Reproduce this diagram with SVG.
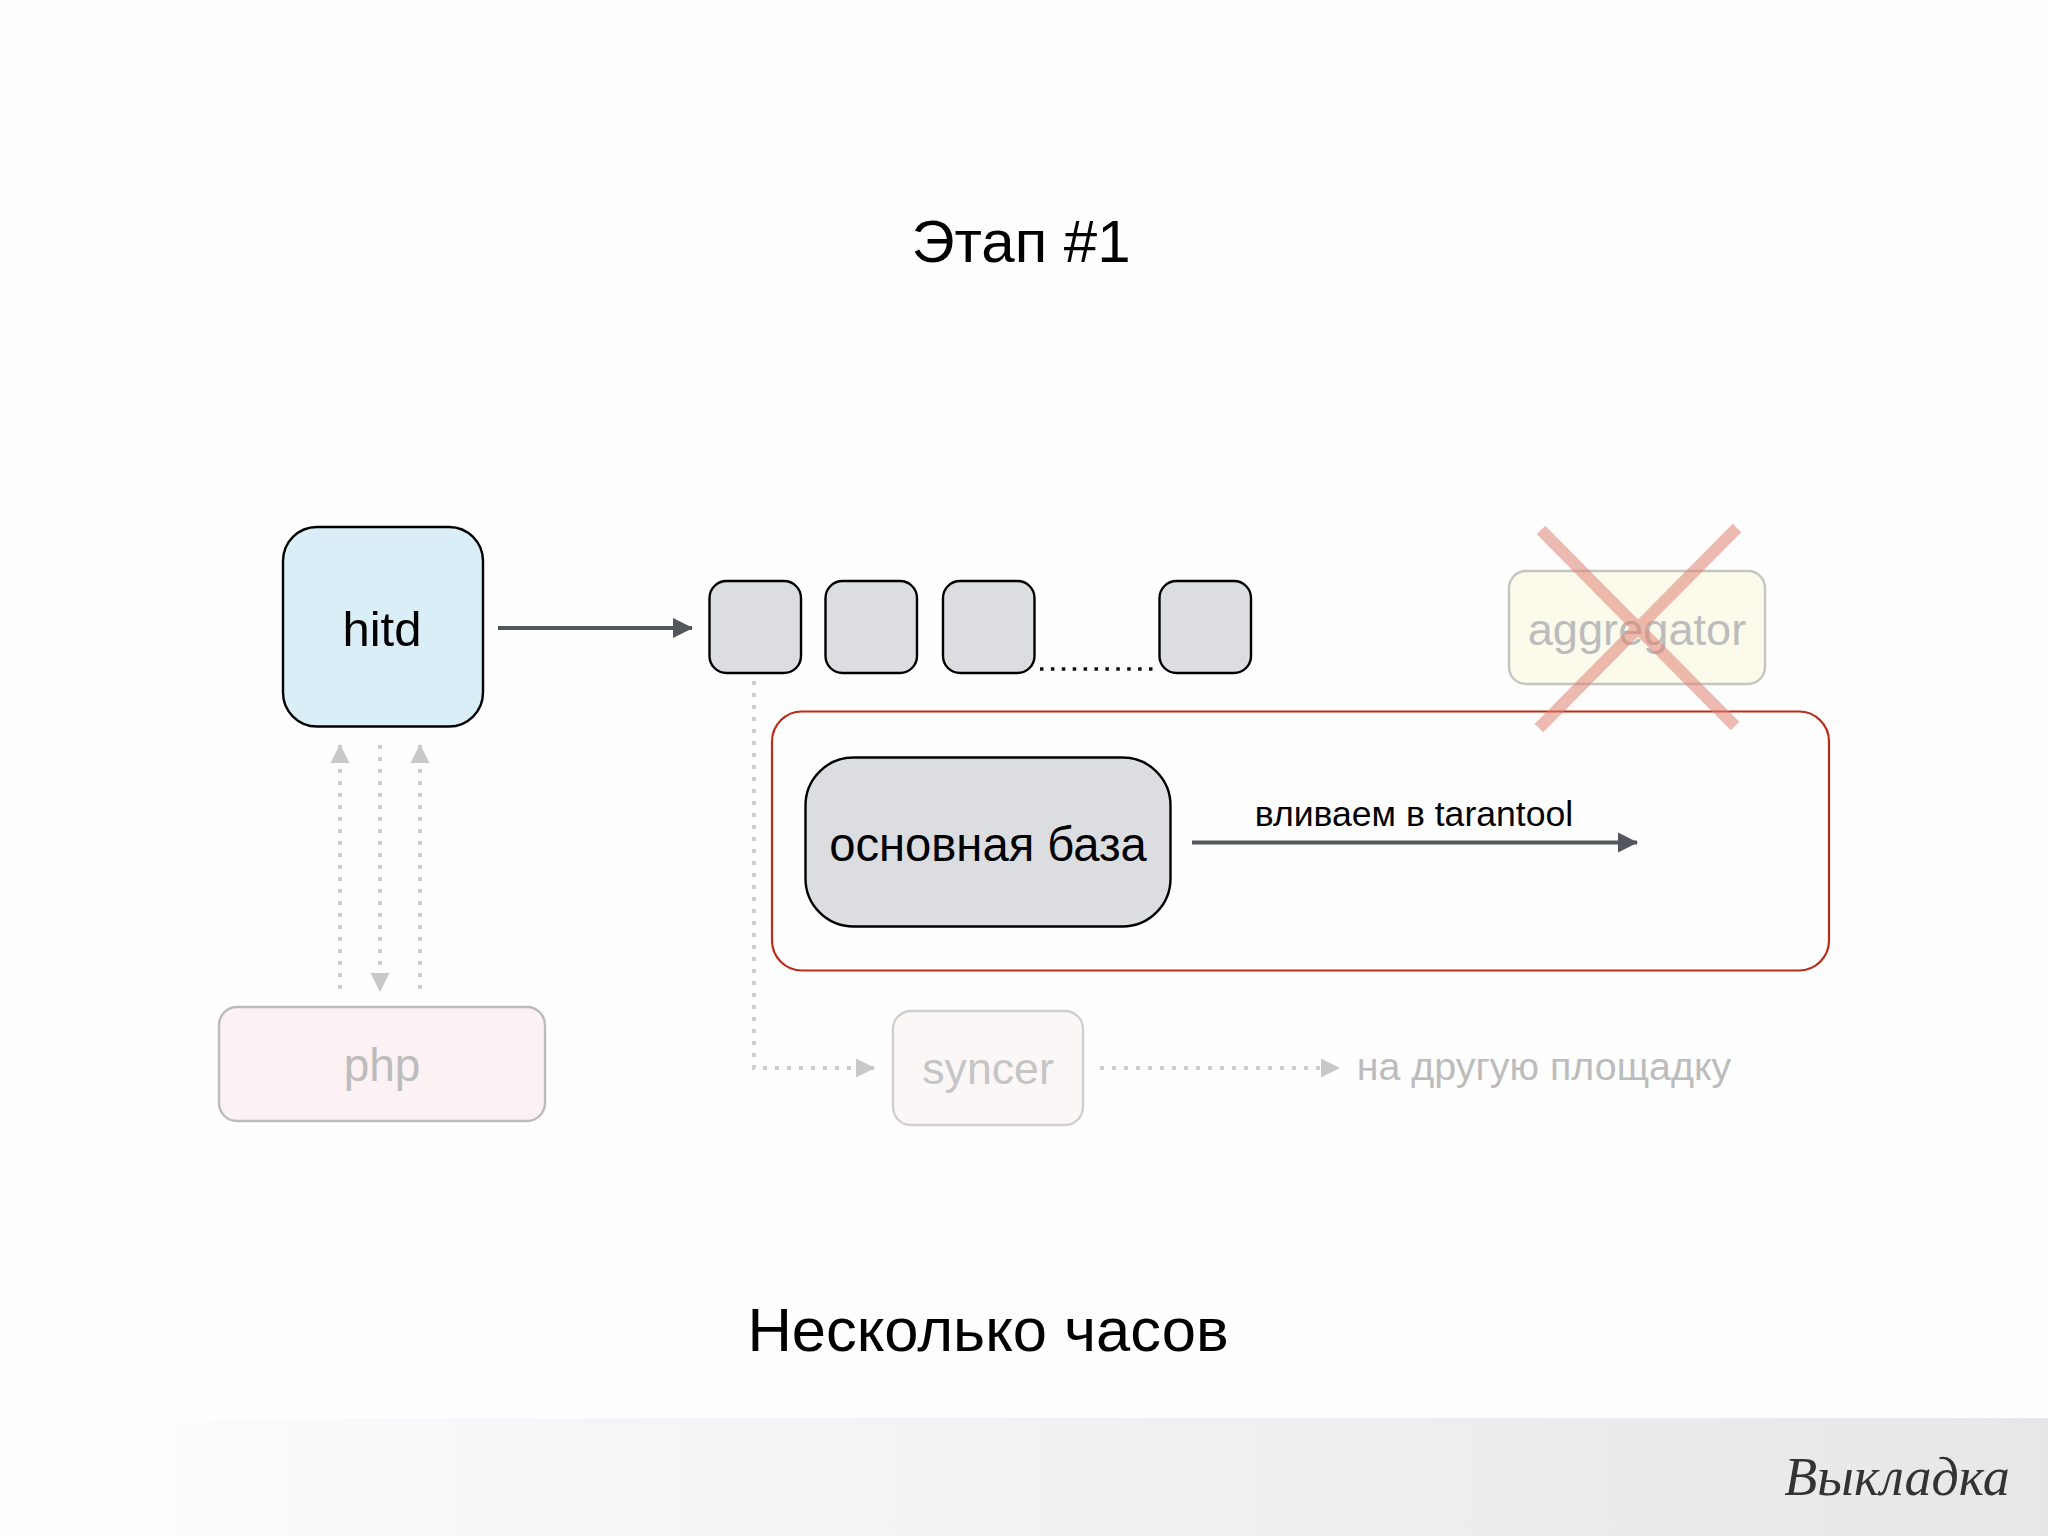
<svg xmlns="http://www.w3.org/2000/svg" width="2048" height="1536" viewBox="0 0 2048 1536">
<style>
text{font-family:"Liberation Sans",Arial,sans-serif;text-anchor:middle}
.b{stroke:#000;stroke-width:2.4}
.g{fill:#dcdde0}
.s{fill:none;stroke:#53565c;stroke-width:4}
.d{fill:none;stroke:#cdcdcf;stroke-width:4;stroke-dasharray:4 8}
.faint{fill:#bdbcbc}
</style>
<defs>
<linearGradient id="band" x1="0" x2="1" y1="0" y2="0"><stop offset="0.03" stop-color="#fefefe"/><stop offset="0.3" stop-color="#f6f5f8"/><stop offset="1" stop-color="#e7e6e9"/></linearGradient>
<marker id="ah" markerUnits="userSpaceOnUse" markerWidth="22" markerHeight="22" refX="19" refY="11" orient="auto"><path d="M0 1L20 11L0 21Z" fill="#53565c"/></marker>
<marker id="ag" markerUnits="userSpaceOnUse" markerWidth="22" markerHeight="22" refX="18" refY="11" orient="auto"><path d="M0 1.500L19 11L0 20.500Z" fill="#c8c8ca"/></marker>
</defs>
<rect width="2048" height="1536" fill="#fefefe"/>
<rect y="1418" width="2048" height="118" fill="url(#band)"/>
<text x="1021" y="262" font-size="60">Этап #1</text>
<text x="988" y="1351" font-size="61.500">Несколько часов</text>
<text x="1897" y="1495" font-size="54" style="font-family:'Liberation Serif',serif;font-style:italic" fill="#333">Выкладка</text>
<g id="connectors">
<path class="s" d="M498 628H692" marker-end="url(#ah)"/>
<path class="s" d="M1192 842.500H1637" marker-end="url(#ah)"/>
<path class="d" d="M340 989V745" marker-end="url(#ag)"/>
<path class="d" d="M380 745V991" marker-end="url(#ag)"/>
<path class="d" d="M420 989V745" marker-end="url(#ag)"/>
<path class="d" d="M754 681V1068H874" marker-end="url(#ag)"/>
<path class="d" d="M1100 1068H1339" marker-end="url(#ag)"/>
<path d="M1040 669H1153" fill="none" stroke="#111" stroke-width="3.500" stroke-dasharray="3.500 7.400"/>
</g>
<g id="hitd"><rect class="b" x="283" y="527" width="200" height="199.500" rx="34" fill="#d9eef7"/><text x="382" y="646" font-size="49">hitd</text></g>
<g id="queue1"><rect class="b g" x="709.500" y="581" width="91.500" height="92" rx="17"/></g>
<g id="queue2"><rect class="b g" x="825.500" y="581" width="91.500" height="92" rx="17"/></g>
<g id="queue3"><rect class="b g" x="943" y="581" width="91.500" height="92" rx="17"/></g>
<g id="queue4"><rect class="b g" x="1159.500" y="581" width="91.500" height="92" rx="17"/></g>
<g id="tarantool"><rect x="772" y="711.500" width="1057" height="259" rx="30" fill="none" stroke="#bb2c17" stroke-width="2.200"/></g>
<g id="main-db"><rect class="b g" x="805.500" y="757.500" width="365" height="169" rx="48"/><text x="988" y="861" font-size="47.200">основная база</text></g>
<text x="1414" y="826" font-size="35.600">вливаем в tarantool</text>
<g id="aggregator"><rect x="1509" y="571" width="256" height="113" rx="17" fill="#fbfaeb" stroke="#c5c5bf" stroke-width="2.400"/><text class="faint" x="1637" y="645" font-size="45.200">aggregator</text></g>
<g id="cross"><path d="M1541 530L1735 726M1737 528L1539 728" fill="none" stroke="#df8173" stroke-opacity=".55" stroke-width="12"/></g>
<g id="php"><rect x="219" y="1007" width="326" height="114" rx="18" fill="#fdf2f3" stroke="#bdbabb" stroke-width="2.400"/><text class="faint" x="382" y="1081" font-size="46">php</text></g>
<g id="syncer"><rect x="893" y="1011" width="190" height="114" rx="18" fill="#fcf7f7" stroke="#d0cece" stroke-width="2.400"/><text x="988" y="1084" font-size="44.700" fill="#c6c5c5">syncer</text></g>
<text class="faint" x="1544" y="1080" font-size="39.400">на другую площадку</text>
</svg>
